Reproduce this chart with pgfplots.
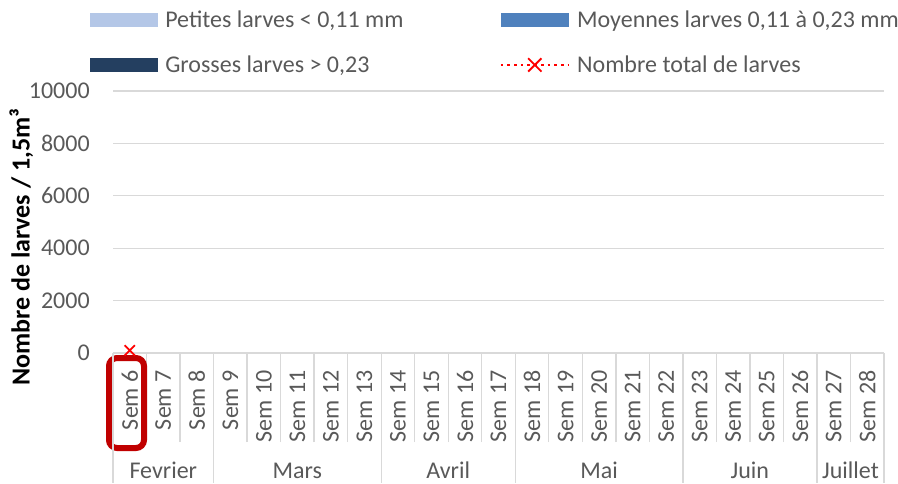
\documentclass[border=0pt]{standalone}
\usepackage{fontspec}
\setmainfont{Carlito}
\usepackage{pgfplots}
\pgfplotsset{compat=1.18}
\definecolor{petit}{HTML}{B4C7E7}
\definecolor{moyen}{HTML}{4F81BD}
\definecolor{gros}{HTML}{243F60}
\definecolor{txtgrey}{HTML}{595959}
\definecolor{gridgrey}{HTML}{D9D9D9}
\definecolor{cadre}{HTML}{C00000}

\pgfplotsset{
  swatch/.style={legend image code/.code={\fill[#1] (0pt,0.5pt) rectangle (51pt,11pt);}},
  totalleg/.style={legend image code/.code={
    \draw[red,line width=2pt,dash pattern=on 2pt off 3pt] (0pt,5.75pt) -- (51pt,5.75pt);
    \draw[red,solid,line width=1.4pt] (20.5pt,0.75pt) -- (30.5pt,10.75pt) (20.5pt,10.75pt) -- (30.5pt,0.75pt);}},
}

\begin{document}
\begin{tikzpicture}
\begin{axis}[
  at={(0,0)},anchor=south west,
  scale only axis,width=578.25pt,height=196.5pt,
  font=\fontsize{18}{21.6}\selectfont,
  /pgf/number format/assume math mode=true,
  /pgf/number format/1000 sep={},
  scaled y ticks=false,
  xmin=-0.5,xmax=22.5,ymin=0,ymax=10000,
  ytick={0,2000,...,10000},
  ymajorgrids,grid style={gridgrey,line width=1pt},
  axis line style={draw=none},
  ytick style={draw=none},
  major tick length=0pt,
  yticklabel style={txtgrey,anchor=east,inner sep=0pt,xshift=-17.25pt},
  xtick={0,...,22},
  xticklabels={Sem 6,Sem 7,Sem 8,Sem 9,Sem 10,Sem 11,Sem 12,Sem 13,Sem 14,Sem 15,Sem 16,Sem 17,Sem 18,Sem 19,Sem 20,Sem 21,Sem 22,Sem 23,Sem 24,Sem 25,Sem 26,Sem 27,Sem 28},
  xticklabel style={txtgrey,yshift=-12.75pt,rotate=90,anchor=east,inner sep=0pt},
  major x tick style={draw=none},
  minor xtick={-0.5,0.5,...,22.5},
  minor x tick style={gridgrey,line width=1pt},
  minor tick length=66.75pt,
  tick align=outside,tick pos=left,
  every axis y label/.style={at={(axis description cs:-0.119,0.403)},rotate=90,anchor=center,
    font=\fontsize{19.5}{23}\selectfont\bfseries},
  ylabel={Nombre de larves / 1,5m³},
  ybar stacked,bar width=20pt,
  clip=false,
  legend columns=2,
  legend style={draw=none,fill=none,font=\fontsize{18}{21.6}\selectfont\color{txtgrey},
    at={(axis description cs:-0.035,1.318)},anchor=north west,
    nodes={inner sep=0pt,anchor=base west},
    row sep=20pt,
    /tikz/every odd column/.style={column sep=5.25pt},
    /tikz/every even column/.style={column sep=72pt}},
  legend cell align=left,
]
\addplot+[draw=none,fill=petit,swatch=petit] coordinates {(0,0)};
\addlegendentry{Petites larves < 0,11 mm}
\addplot+[draw=none,fill=moyen,swatch=moyen] coordinates {(0,0)};
\addlegendentry{Moyennes larves 0,11 à 0,23 mm}
\addplot+[draw=none,fill=gros,swatch=gros] coordinates {(0,0)};
\addlegendentry{Grosses larves > 0,23}
\addplot[sharp plot,red,line width=2pt,dash pattern=on 2pt off 3pt,
  mark=x,mark size=5.5pt,mark options={solid,line width=1.4pt},totalleg]
  coordinates {(0,100)};
\addlegendentry{Nombre total de larves}
% separateurs de mois
\draw[gridgrey,line width=1pt] (axis cs:-0.5,0) -- ++(0pt,-97.5pt);
\draw[gridgrey,line width=1pt] (axis cs:2.5,0) -- ++(0pt,-97.5pt);
\draw[gridgrey,line width=1pt] (axis cs:7.5,0) -- ++(0pt,-97.5pt);
\draw[gridgrey,line width=1pt] (axis cs:11.5,0) -- ++(0pt,-97.5pt);
\draw[gridgrey,line width=1pt] (axis cs:16.5,0) -- ++(0pt,-97.5pt);
\draw[gridgrey,line width=1pt] (axis cs:20.5,0) -- ++(0pt,-97.5pt);
\draw[gridgrey,line width=1pt] (axis cs:22.5,0) -- ++(0pt,-97.5pt);
% mois
\path (axis cs:1,0) ++(0pt,-94pt) node[anchor=base,txtgrey,inner sep=0pt] {Fevrier};
\path (axis cs:5,0) ++(0pt,-94pt) node[anchor=base,txtgrey,inner sep=0pt] {Mars};
\path (axis cs:9.5,0) ++(0pt,-94pt) node[anchor=base,txtgrey,inner sep=0pt] {Avril};
\path (axis cs:14,0) ++(0pt,-94pt) node[anchor=base,txtgrey,inner sep=0pt] {Mai};
\path (axis cs:18.5,0) ++(0pt,-94pt) node[anchor=base,txtgrey,inner sep=0pt] {Juin};
\path (axis cs:21.5,0) ++(0pt,-94pt) node[anchor=base,txtgrey,inner sep=0pt] {Juillet};
\draw[cadre,line width=4.5pt,rounded corners=6pt] (axis cs:-0.5,0) ++(-3pt,-3.75pt) rectangle ++(26.25pt,-67.5pt);
\end{axis}
\pgfresetboundingbox
\useasboundingbox (-84.75pt,-97.5pt) rectangle (588.75pt,264.75pt);
\end{tikzpicture}
\end{document}
